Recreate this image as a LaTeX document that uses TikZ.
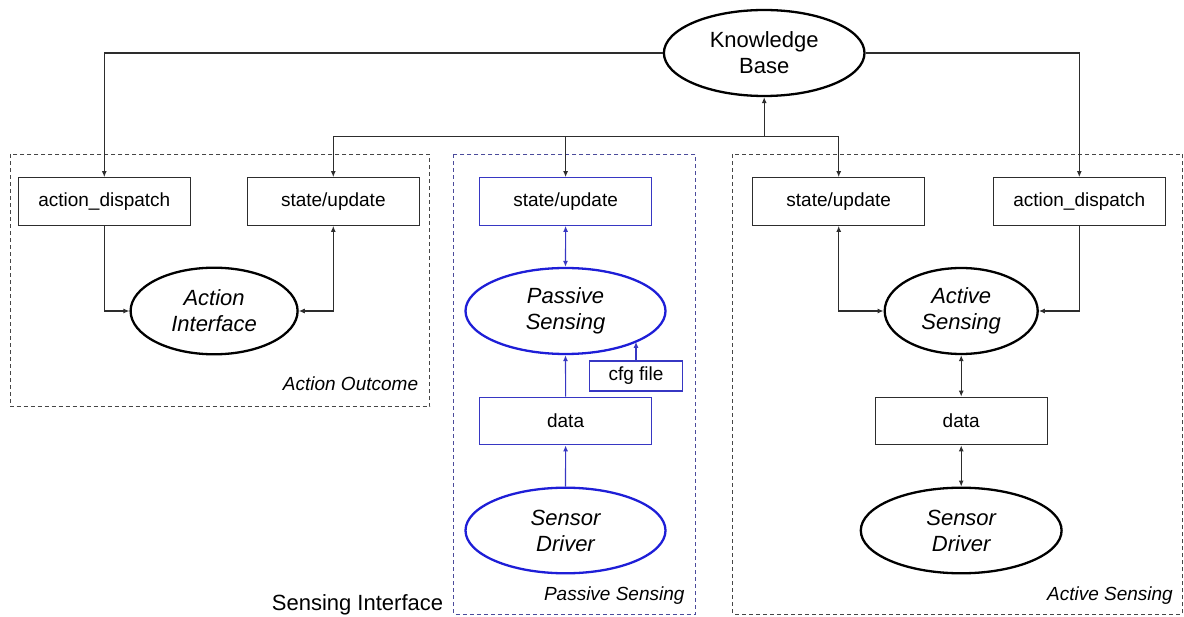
\documentclass[tikz,border=0pt]{standalone}
\usepackage{fontspec}
\setmainfont{Liberation Sans}
\usetikzlibrary{shapes.geometric,arrows.meta}
\definecolor{ink}{RGB}{45,45,45}
\definecolor{sblue}{RGB}{30,30,215}
\definecolor{bblue}{RGB}{55,55,195}
\definecolor{dblue}{RGB}{75,75,155}
\definecolor{frame}{RGB}{70,70,70}

\begin{document}
\begin{tikzpicture}[x=1pt,y=-1pt,
  every node/.style={inner sep=0pt},
  box/.style={draw=ink, line width=1.2pt, minimum width=172pt, minimum height=47.6pt,
    font=\fontsize{19}{22}\selectfont},
  pbox/.style={box, draw=bblue},
  oval/.style={ellipse, draw=black, line width=2.3pt, align=center,
    font=\fontsize{22}{26}\selectfont\itshape},
  poval/.style={oval, draw=sblue},
  tip/.tip={Latex[length=6pt,width=5pt]},
  arr/.style={-tip, draw=ink, line width=1.1pt},
  arrb/.style={tip-tip, draw=ink, line width=1.1pt},
  parr/.style={-tip, draw=bblue, line width=1.1pt},
  parrb/.style={tip-tip, draw=bblue, line width=1.1pt},
  group/.style={draw=frame, line width=1pt, dash pattern=on 4pt off 3pt},
  grouplabel/.style={anchor=base east, font=\fontsize{19}{22}\selectfont\itshape}
]
\useasboundingbox (0,0) rectangle (1184,617);

% group frames
\draw[group] (10,154.3) rectangle (429.8,406.7);
\draw[group, draw=dblue] (453.5,154.3) rectangle (695.7,614);
\draw[group] (732.8,154.3) rectangle (1182.5,614);

% knowledge base
\node[oval, font=\fontsize{22}{26}\selectfont, minimum width=200.6pt, minimum height=86pt]
  (kb) at (764.2,53) {Knowledge\\Base};

% action outcome group
\node[box] (ad1) at (104.3,201.5) {action\_dispatch};
\node[box] (su1) at (333.3,201.5) {state/update};
\node[oval, minimum width=167pt, minimum height=86.6pt] (ai) at (214.1,311) {Action\\Interface};
\node[grouplabel] (lab1) at (418.3,391) {Action Outcome};

% passive sensing group
\node[pbox] (su2) at (565.6,201.5) {state/update};
\node[poval, minimum width=200pt, minimum height=86pt] (ps) at (565.5,311) {Passive\\Sensing};
\node[pbox, minimum width=92.6pt, minimum height=30pt] (cfg) at (636,376) {cfg file};
\node[pbox] (d2) at (565.6,421) {data};
\node[poval, minimum width=200pt, minimum height=85.6pt] (sd2) at (565.5,530.5) {Sensor\\Driver};
\node[grouplabel] (lab2) at (684.7,600) {Passive Sensing};

% active sensing group
\node[box] (su3) at (838.7,201.5) {state/update};
\node[box] (ad2) at (1079.3,201.5) {action\_dispatch};
\node[oval, minimum width=153pt, minimum height=86pt] (as) at (961.2,311) {Active\\Sensing};
\node[box] (d3) at (961.2,421) {data};
\node[oval, minimum width=200.8pt, minimum height=85.6pt] (sd3) at (961.2,530.5) {Sensor\\Driver};
\node[grouplabel] (lab3) at (1173,600) {Active Sensing};

\node[anchor=base west, font=\fontsize{22}{26}\selectfont] (si) at (271.7,610.7) {Sensing Interface};

% dispatch lines from the knowledge base
\draw[arr] (kb.west) -| (ad1.north);
\draw[arr] (kb.east) -| (ad2.north);

% state/update bus
\coordinate (bus) at (764.2,136.7);
\draw[arr] (bus) -- (kb.south);
\draw[arr] (bus) -| (su1.north);
\draw[arr] (bus) -| (su2.north);
\draw[arr] (bus) -| (su3.north);

% action outcome links
\draw[arr] (ad1.south) |- (ai.west);
\draw[arrb] (ai.east) -| (su1.south);

% passive sensing links
\draw[parrb] (su2.south) -- (ps.north);
\draw[parr] (d2.north) -- (ps.south);
\draw[parr] (sd2.north) -- (d2.south);
\draw[parr] (cfg.north) -- (ps.-23.4 -| cfg.north);

% active sensing links
\draw[arrb] (as.west) -| (su3.south);
\draw[arr] (ad2.south) |- (as.east);
\draw[arrb] (as.south) -- (d3.north);
\draw[arrb] (d3.south) -- (sd3.north);
\end{tikzpicture}
\end{document}
